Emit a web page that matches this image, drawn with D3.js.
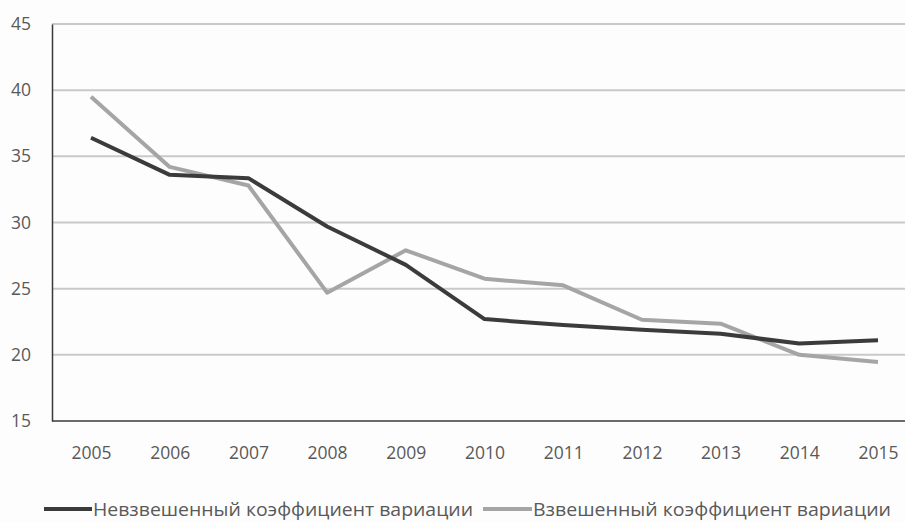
<!DOCTYPE html>
<html>
<head>
<meta charset="utf-8">
<script src="https://cdn.jsdelivr.net/npm/d3@7"></script>
<style>
  body { margin: 0; background: #fdfdfd; }
  svg { display: block; }
</style>
</head>
<body>
<svg width="905" height="523"></svg>
<script>
var years = [2005, 2006, 2007, 2008, 2009, 2010, 2011, 2012, 2013, 2014, 2015];
var unweighted = [36.4, 33.6, 33.35, 29.7, 26.8, 22.7, 22.25, 21.9, 21.6, 20.85, 21.1];
var weighted = [39.5, 34.2, 32.8, 24.7, 27.9, 25.75, 25.25, 22.65, 22.35, 20.0, 19.45];
var y_ticks = [15, 20, 25, 30, 35, 40, 45];
var series_names = ["Невзвешенный коэффициент вариации", "Взвешенный коэффициент вариации"];

var dark_col = "#3b3b3b";
var light_col = "#a5a5a5";
var text_col = "#595959";

var svg = d3.select("svg");

var x = d3.scalePoint().domain(years).range([91, 878]);
var y = d3.scaleLinear().domain([15, 45]).range([421, 24]);

// gridlines
svg.append("g").selectAll("line")
  .data(y_ticks.filter(function(d){ return d > 15; }))
  .enter().append("line")
  .attr("x1", 52).attr("x2", 905)
  .attr("y1", function(d){ return y(d); })
  .attr("y2", function(d){ return y(d); })
  .style("stroke", "#c9c9c9")
  .style("stroke-width", 2);

// axes
var yAxis = svg.append("g")
  .attr("transform", "translate(52,0)")
  .call(d3.axisLeft(y).tickValues(y_ticks).tickSize(0));
yAxis.select(".domain").style("stroke", "#3a3a3a").style("stroke-width", 1.5);
yAxis.selectAll("text")
  .style("font-family", "'Open Sans', sans-serif")
  .style("font-size", "17.5px")
  .style("fill", text_col)
  .attr("x", -21);

var xAxis = svg.append("g")
  .attr("transform", "translate(0,421)")
  .call(d3.axisBottom(x).tickSize(0).tickFormat(d3.format("d")));
xAxis.select(".domain").remove();
xAxis.selectAll("text")
  .style("font-family", "'Open Sans', sans-serif")
  .style("font-size", "17.5px")
  .style("fill", text_col)
  .attr("y", 26);

svg.append("line")
  .attr("x1", 52).attr("x2", 905)
  .attr("y1", y(15)).attr("y2", y(15))
  .style("stroke", "#3a3a3a").style("stroke-width", 1.5);

// lines
var line = d3.line()
  .x(function(d, i){ return x(years[i]); })
  .y(function(d){ return y(d); });

svg.append("path").datum(weighted)
  .attr("d", line)
  .style("fill", "none").style("stroke", light_col)
  .style("stroke-width", 4).style("stroke-linejoin", "round");

svg.append("path").datum(unweighted)
  .attr("d", line)
  .style("fill", "none").style("stroke", dark_col)
  .style("stroke-width", 4).style("stroke-linejoin", "round");

// legend
var legend_items = [
  {name: series_names[0], col: dark_col, x1: 44, x2: 92, tx: 93, tw: 380},
  {name: series_names[1], col: light_col, x1: 483, x2: 532, tx: 533, tw: 358}
];

var lg = svg.append("g").selectAll("g")
  .data(legend_items).enter().append("g");

lg.append("line")
  .attr("x1", function(d){ return d.x1; })
  .attr("x2", function(d){ return d.x2; })
  .attr("y1", 509).attr("y2", 509)
  .style("stroke", function(d){ return d.col; })
  .style("stroke-width", 4);

lg.append("text")
  .attr("x", function(d){ return d.tx; })
  .attr("y", 516)
  .attr("textLength", function(d){ return d.tw; })
  .attr("lengthAdjust", "spacingAndGlyphs")
  .style("font-family", "'Open Sans', sans-serif")
  .style("font-size", "19px")
  .style("fill", text_col)
  .text(function(d){ return d.name; });
</script>
</body>
</html>
